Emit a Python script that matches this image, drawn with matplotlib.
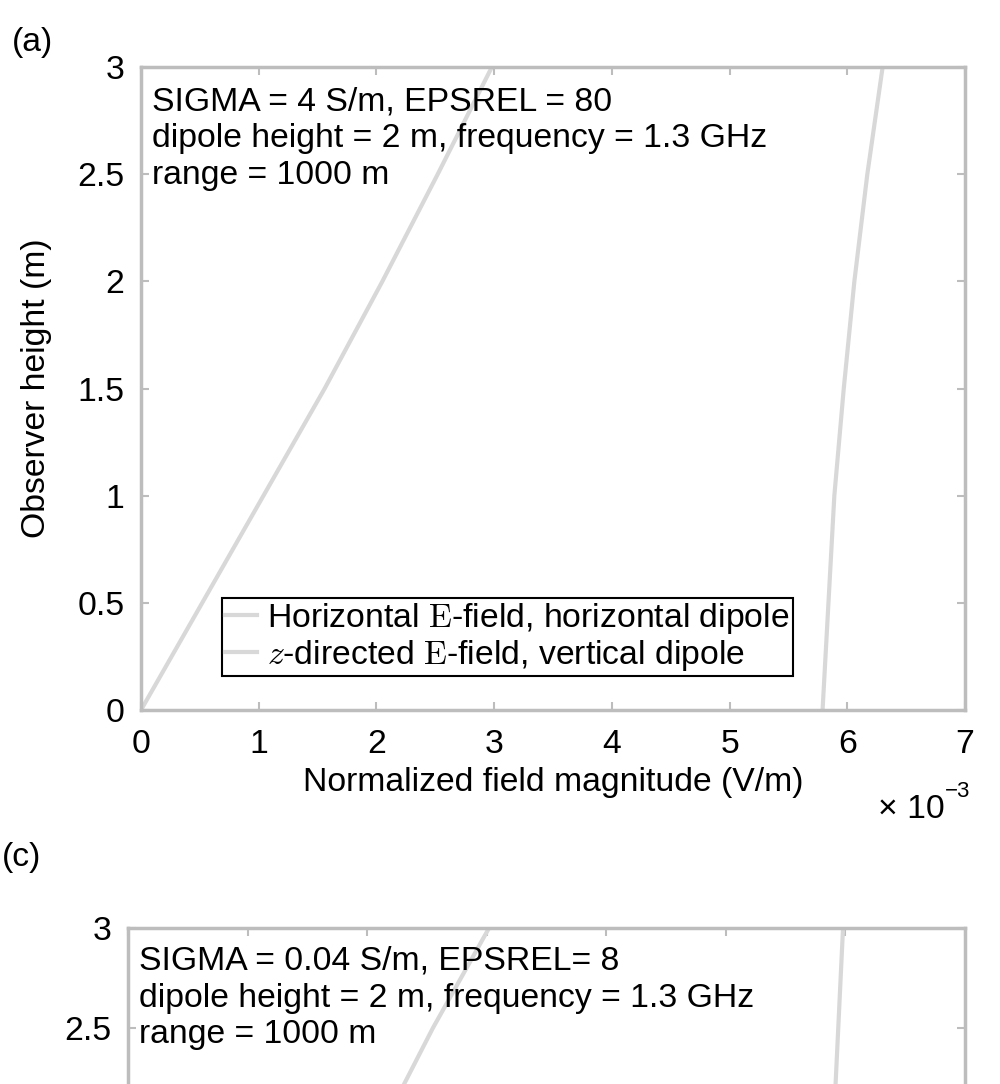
#!/usr/bin/env python

import matplotlib
matplotlib.use('Agg')
import matplotlib.pyplot as plt
from matplotlib.ticker import FuncFormatter, MultipleLocator

# panel (a): SIGMA = 4 S/m, EPSREL = 80
a_height = [0.0, 0.5, 1.0, 1.5, 2.0, 2.5, 3.0]
a_horiz = [0.0, 0.52e-3, 1.04e-3, 1.56e-3, 2.05e-3, 2.52e-3, 2.98e-3]
a_vert = [5.79e-3, 5.84e-3, 5.89e-3, 5.97e-3, 6.06e-3, 6.17e-3, 6.30e-3]

# panel (c): SIGMA = 0.04 S/m, EPSREL = 8 (only the top is visible)
c_height = [2.0, 2.5, 3.0]
c_horiz = [2.12e-3, 2.55e-3, 3.02e-3]
c_vert = [5.90e-3, 5.94e-3, 5.98e-3]

legend_labels = [r'Horizontal $\mathrm{E}$-field, horizontal dipole',
                 r'$z$-directed $\mathrm{E}$-field, vertical dipole']

plt.rcParams['font.family'] = ['Liberation Sans', 'DejaVu Sans']
plt.rcParams['mathtext.fontset'] = 'cm'

FS = 24.3
LINE_COLOR = '#d8d8d8'
SPINE_COLOR = '#bdbdbd'

def style_axes(ax, visible_yticks=None):
  ax.set_xlim(0, 7e-3)
  ax.set_ylim(0, 3)
  ax.xaxis.set_major_locator(MultipleLocator(1e-3))
  if visible_yticks is None:
    ax.yaxis.set_major_locator(MultipleLocator(0.5))
  else:
    ax.set_yticks(visible_yticks)
  ax.xaxis.set_major_formatter(FuncFormatter(lambda v, p: '%g' % round(v * 1e3, 6)))
  ax.yaxis.set_major_formatter(FuncFormatter(lambda v, p: '%g' % v))
  ax.tick_params(direction='in', length=6, width=1.5, color=SPINE_COLOR,
                 labelsize=FS, top=True, right=True)
  ax.tick_params(axis='x', pad=14)
  ax.tick_params(axis='y', pad=12)
  for s in ax.spines.values():
    s.set_color(SPINE_COLOR)
    s.set_linewidth(2.5)

def panel_text(ax, sigma, eps):
  ax.text(0.013, 0.97,
          'SIGMA = %s S/m, %s\ndipole height = 2 m, frequency = 1.3 GHz\nrange = 1000 m' % (sigma, eps),
          transform=ax.transAxes, ha='left', va='top', fontsize=FS, linespacing=1.24)

fig = plt.figure(figsize=(10, 10.84), dpi=100)

ax = fig.add_axes([0.141, 0.345, 0.824, 0.593])
ax.plot(a_horiz, a_height, color=LINE_COLOR, lw=3, label=legend_labels[0])
ax.plot(a_vert, a_height, color=LINE_COLOR, lw=3, label=legend_labels[1])
style_axes(ax)
panel_text(ax, '4', 'EPSREL = 80')
ax.set_xlabel('Normalized field magnitude (V/m)', fontsize=FS, labelpad=5)
ax.set_ylabel('Observer height (m)', fontsize=FS, labelpad=18)
leg = ax.legend(loc='lower left', bbox_to_anchor=(0.098, 0.053), borderaxespad=0,
                fontsize=FS, frameon=True, fancybox=False, framealpha=1,
                handlelength=0.95, handletextpad=0.3, borderpad=0.1, labelspacing=0.05)
leg.get_frame().set_edgecolor('black')
leg.get_frame().set_linewidth(1.5)

# scale factor for the x axis, drawn the way the original shows it
fig.text(0.945, 0.253, '\u00d7 10', ha='right', va='center', fontsize=FS)
fig.text(0.945, 0.270, '\u22123', ha='left', va='center', fontsize=16)

ax2 = fig.add_axes([0.128, -0.41, 0.837, 0.554])
ax2.plot(c_horiz, c_height, color=LINE_COLOR, lw=3)
ax2.plot(c_vert, c_height, color=LINE_COLOR, lw=3)
style_axes(ax2, visible_yticks=[2.5, 3.0])
ax2.tick_params(axis='x', labelbottom=False)
panel_text(ax2, '0.04', 'EPSREL= 8')

fig.text(0.033, 0.961, '(a)', ha='center', va='center', fontsize=FS)
fig.text(0.022, 0.209, '(c)', ha='center', va='center', fontsize=FS)

plt.savefig('out.png')
plt.close('all')
